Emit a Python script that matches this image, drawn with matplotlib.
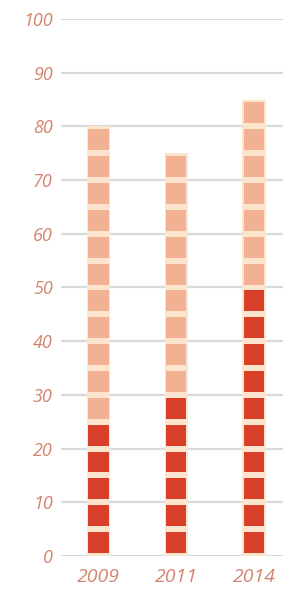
import matplotlib.pyplot as plt
import numpy as np

# years and totals (each square = 5 units)
years = ["2009", "2011", "2014"]
dark_vals = [25, 30, 50]
total_vals = [80, 75, 85]
yticks = [0, 10, 20, 30, 40, 50, 60, 70, 80, 90, 100]

dark_color = "#d8402a"
light_color = "#f3b193"
gap_color = "#fde4cc"
text_color = "#d4846e"

fig = plt.figure(figsize=(2.85, 5.93), dpi=100)
ax = fig.add_axes([0.214, 0.0624, 0.779, 0.9056])

step = 5
for i, (dark, total) in enumerate(zip(dark_vals, total_vals)):
    # cream column behind the squares
    ax.bar(i, total, width=0.30, bottom=0, color=gap_color, zorder=2)
    bottoms = np.arange(0, total, step)
    colors = [dark_color if b < dark else light_color for b in bottoms]
    ax.bar([i] * len(bottoms), step * 0.78, width=0.26, bottom=bottoms + step * 0.11,
           color=colors, zorder=3)

ax.set_xlim(-0.48, 2.37)
ax.set_ylim(0, 100)
ax.set_yticks(yticks)
ax.set_xticks(range(len(years)))
ax.set_xticklabels(years)
ax.grid(axis="y", color="#d9d9d9", linewidth=1.6, zorder=1)
ax.set_axisbelow(True)
for s in ax.spines.values():
    s.set_visible(False)
ax.tick_params(axis="y", length=0, labelsize=13, colors=text_color, pad=6)
ax.tick_params(axis="x", length=0, labelsize=14, colors=text_color, pad=9)
for lab in ax.get_xticklabels() + ax.get_yticklabels():
    lab.set_fontstyle("italic")
    lab.set_fontfamily("Open Sans")

fig.savefig("out.png", dpi=100)
